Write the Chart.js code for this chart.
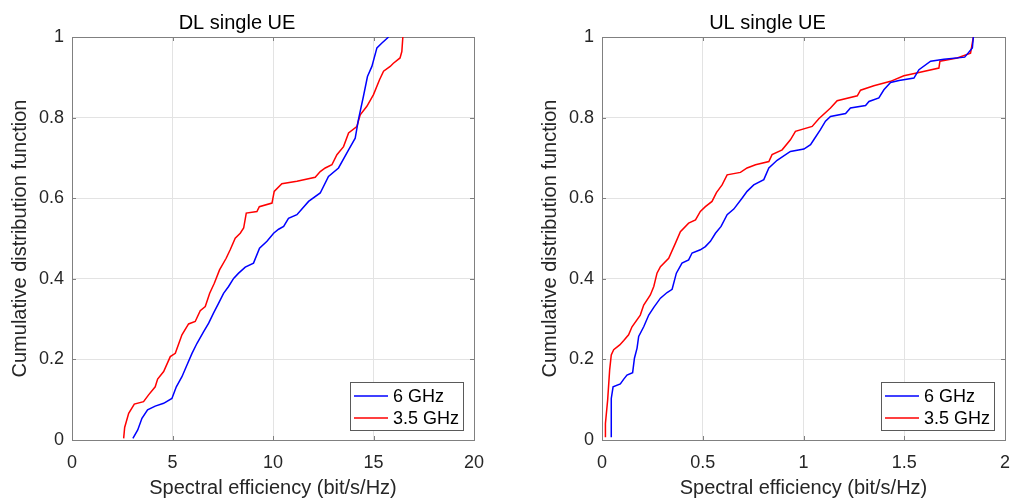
<!DOCTYPE html>
<html lang="en">
<head>
<meta charset="UTF-8">
<title>Single UE spectral efficiency CDF</title>
<script src="https://cdn.jsdelivr.net/npm/chart.js"></script>
<style>
  html, body { margin: 0; padding: 0; background: #ffffff; }
  .panel { position: absolute; top: 0; width: 505px; height: 502px; }
</style>
</head>
<body>
<div class="panel" style="left:0"><canvas id="dlChart" width="505" height="502"></canvas></div>
<div class="panel" style="left:505px"><canvas id="ulChart" width="505" height="502"></canvas></div>
<script>
  // --- data ---
  const seriesNames = ['6 GHz', '3.5 GHz'];
  const yTicks = [0, 0.2, 0.4, 0.6, 0.8, 1];
  const dlXTicks = [0, 5, 10, 15, 20];
  const ulXTicks = [0, 0.5, 1, 1.5, 2];

  // DL single UE
  const dl6X = [3.03, 3.27, 3.48, 3.76, 4.14, 4.56, 4.97, 5.19, 5.47, 5.72, 5.97, 6.22, 6.55, 6.80, 7.04, 7.29, 7.54, 7.79, 8.04, 8.29, 8.62, 9.03, 9.33, 9.70, 10.03, 10.28, 10.53, 10.77, 11.19, 11.77, 12.35, 12.76, 13.26, 13.76, 14.09, 14.25, 14.50, 14.70, 14.92, 15.17, 15.42, 15.75];
  const dl6Y = [0.004, 0.025, 0.054, 0.075, 0.084, 0.091, 0.103, 0.132, 0.157, 0.186, 0.215, 0.240, 0.269, 0.290, 0.315, 0.339, 0.364, 0.381, 0.401, 0.414, 0.429, 0.439, 0.476, 0.493, 0.513, 0.523, 0.530, 0.550, 0.559, 0.592, 0.613, 0.654, 0.675, 0.720, 0.749, 0.795, 0.853, 0.902, 0.927, 0.973, 0.985, 1.0];
  const dl35X = [2.57, 2.62, 2.82, 3.10, 3.56, 3.81, 4.14, 4.26, 4.56, 4.89, 5.14, 5.47, 5.80, 6.13, 6.38, 6.63, 6.85, 7.08, 7.34, 7.67, 7.87, 8.12, 8.37, 8.54, 8.67, 9.20, 9.32, 9.95, 10.06, 10.44, 11.19, 12.10, 12.35, 12.60, 12.93, 13.18, 13.51, 13.76, 14.17, 14.34, 14.67, 15.00, 15.30, 15.50, 15.83, 15.99, 16.32, 16.41, 16.46];
  const dl35Y = [0.004, 0.031, 0.066, 0.089, 0.095, 0.112, 0.132, 0.151, 0.170, 0.207, 0.215, 0.261, 0.288, 0.294, 0.321, 0.331, 0.364, 0.389, 0.422, 0.451, 0.472, 0.501, 0.513, 0.526, 0.563, 0.567, 0.579, 0.588, 0.617, 0.636, 0.642, 0.652, 0.666, 0.675, 0.683, 0.708, 0.728, 0.762, 0.778, 0.807, 0.828, 0.857, 0.894, 0.915, 0.927, 0.935, 0.948, 0.964, 1.0];

  // UL single UE
  const ul6X = [0.046, 0.046, 0.055, 0.091, 0.108, 0.124, 0.152, 0.161, 0.174, 0.182, 0.207, 0.232, 0.257, 0.290, 0.323, 0.348, 0.369, 0.397, 0.430, 0.447, 0.488, 0.513, 0.538, 0.563, 0.591, 0.621, 0.654, 0.695, 0.720, 0.753, 0.803, 0.828, 0.869, 0.935, 1.002, 1.035, 1.051, 1.084, 1.109, 1.134, 1.209, 1.233, 1.308, 1.325, 1.374, 1.399, 1.432, 1.474, 1.548, 1.573, 1.631, 1.697, 1.800, 1.838, 1.843];
  const ul6Y = [0.007, 0.103, 0.132, 0.139, 0.151, 0.161, 0.167, 0.203, 0.228, 0.257, 0.281, 0.310, 0.329, 0.352, 0.366, 0.374, 0.414, 0.439, 0.447, 0.464, 0.472, 0.480, 0.493, 0.513, 0.530, 0.559, 0.573, 0.600, 0.617, 0.633, 0.646, 0.675, 0.694, 0.716, 0.722, 0.733, 0.745, 0.770, 0.791, 0.803, 0.810, 0.824, 0.830, 0.840, 0.849, 0.869, 0.887, 0.892, 0.898, 0.919, 0.940, 0.945, 0.950, 0.973, 1.0];
  const ul35X = [0.017, 0.017, 0.028, 0.038, 0.046, 0.058, 0.088, 0.108, 0.132, 0.149, 0.190, 0.207, 0.240, 0.257, 0.273, 0.290, 0.331, 0.364, 0.389, 0.430, 0.464, 0.488, 0.513, 0.546, 0.568, 0.596, 0.621, 0.687, 0.720, 0.762, 0.828, 0.844, 0.894, 0.935, 0.960, 1.043, 1.076, 1.134, 1.167, 1.267, 1.283, 1.349, 1.432, 1.498, 1.573, 1.672, 1.677, 1.763, 1.829, 1.843];
  const ul35Y = [0.007, 0.041, 0.099, 0.174, 0.211, 0.224, 0.236, 0.247, 0.261, 0.281, 0.310, 0.335, 0.360, 0.381, 0.414, 0.430, 0.451, 0.488, 0.517, 0.538, 0.546, 0.567, 0.579, 0.592, 0.614, 0.633, 0.658, 0.664, 0.675, 0.683, 0.691, 0.708, 0.720, 0.745, 0.766, 0.778, 0.797, 0.824, 0.842, 0.854, 0.868, 0.879, 0.890, 0.904, 0.912, 0.923, 0.940, 0.948, 0.960, 1.0];

  // --- styling ---
  const FONT = "'Liberation Sans', Arial, Helvetica, sans-serif";
  const TEXT = '#262626';
  const FRAME = '#808080';
  const GRID = '#e3e3e3';
  const colors = ['#0000ff', '#ff0000'];

  const pts = (xs, ys) => xs.map((x, i) => ({ x: x, y: ys[i] }));

  // box-style legend drawn inside the bottom-right corner of the plot
  const boxLegend = {
    id: 'boxLegend',
    afterDraw(chart) {
      const { ctx, chartArea } = chart;
      const w = 113, h = 48;
      const left = chartArea.right - 11 - w;
      const top = chartArea.bottom - 10 - h;
      ctx.save();
      ctx.fillStyle = '#ffffff';
      ctx.fillRect(left, top, w, h);
      ctx.strokeStyle = '#5a5a5a';
      ctx.lineWidth = 1;
      ctx.strokeRect(left + 0.5, top + 0.5, w, h);
      ctx.font = '18px ' + FONT;
      ctx.textBaseline = 'middle';
      ctx.fillStyle = '#000000';
      chart.data.datasets.forEach((ds, i) => {
        const y = top + 14 + i * 22;
        ctx.strokeStyle = ds.borderColor;
        ctx.lineWidth = 1.5;
        ctx.beginPath();
        ctx.moveTo(left + 4, y);
        ctx.lineTo(left + 38, y);
        ctx.stroke();
        ctx.fillText(ds.label, left + 43, y + 1);
      });
      ctx.restore();
    }
  };

  // small inward tick marks on all four sides
  const innerTicks = {
    id: 'innerTicks',
    afterDraw(chart) {
      const { ctx, chartArea: a, scales } = chart;
      const len = 4;
      ctx.save();
      ctx.strokeStyle = FRAME;
      ctx.lineWidth = 1;
      ctx.beginPath();
      scales.x.ticks.forEach(t => {
        const px = Math.round(scales.x.getPixelForValue(t.value)) + 0.5;
        ctx.moveTo(px, a.bottom); ctx.lineTo(px, a.bottom - len);
        ctx.moveTo(px, a.top); ctx.lineTo(px, a.top + len);
      });
      scales.y.ticks.forEach(t => {
        const py = Math.round(scales.y.getPixelForValue(t.value)) + 0.5;
        ctx.moveTo(a.left, py); ctx.lineTo(a.left + len, py);
        ctx.moveTo(a.right, py); ctx.lineTo(a.right - len, py);
      });
      ctx.stroke();
      ctx.restore();
    }
  };

  const edgeColor = c => (c.index === 0 || c.index === c.scale.ticks.length - 1) ? FRAME : GRID;
  const plainLabel = v => String(v);

  function makeChart(id, title, xMax, xTicks, s6, s35, padLeft, padRight) {
    return new Chart(document.getElementById(id), {
      type: 'line',
      data: {
        datasets: [
          { label: seriesNames[0], data: s6, borderColor: colors[0], borderWidth: 1.5, pointRadius: 0, tension: 0, fill: false },
          { label: seriesNames[1], data: s35, borderColor: colors[1], borderWidth: 1.5, pointRadius: 0, tension: 0, fill: false }
        ]
      },
      options: {
        responsive: false,
        animation: false,
        layout: { padding: { left: padLeft, right: padRight, top: 0, bottom: 0 } },
        plugins: {
          legend: { display: false },
          tooltip: { enabled: false },
          title: {
            display: true,
            text: title,
            color: '#000000',
            font: { family: FONT, size: 20, weight: 'normal' },
            padding: { top: 11, bottom: 2 }
          }
        },
        scales: {
          x: {
            type: 'linear',
            min: 0,
            max: xMax,
            afterBuildTicks: s => { s.ticks = xTicks.map(v => ({ value: v })); },
            afterFit: s => { s.height = 62; s.paddingLeft = 0; s.paddingRight = 0; },
            grid: { color: edgeColor, drawTicks: false, lineWidth: 1 },
            border: { display: true, color: FRAME },
            ticks: { color: TEXT, font: { family: FONT, size: 18 }, padding: 12, maxRotation: 0, callback: plainLabel },
            title: {
              display: true,
              text: 'Spectral efficiency (bit/s/Hz)',
              color: TEXT,
              font: { family: FONT, size: 20 },
              padding: { top: 0, bottom: 2 }
            }
          },
          y: {
            min: 0,
            max: 1,
            afterBuildTicks: s => { s.ticks = yTicks.map(v => ({ value: v })); },
            afterFit: s => { s.width = 72; s.paddingTop = 0; s.paddingBottom = 0; },
            grid: { color: edgeColor, drawTicks: false, lineWidth: 1 },
            border: { display: true, color: FRAME },
            ticks: { color: TEXT, font: { family: FONT, size: 18 }, padding: 8, callback: plainLabel },
            title: {
              display: true,
              text: 'Cumulative distribution function',
              color: TEXT,
              font: { family: FONT, size: 20 },
              padding: { top: 8, bottom: 0 }
            }
          }
        }
      },
      plugins: [innerTicks, boxLegend]
    });
  }

  makeChart('dlChart', 'DL single UE', 20, dlXTicks, pts(dl6X, dl6Y), pts(dl35X, dl35Y), 0, 31);
  makeChart('ulChart', 'UL single UE', 2, ulXTicks, pts(ul6X, ul6Y), pts(ul35X, ul35Y), 25, 5);
</script>
</body>
</html>
